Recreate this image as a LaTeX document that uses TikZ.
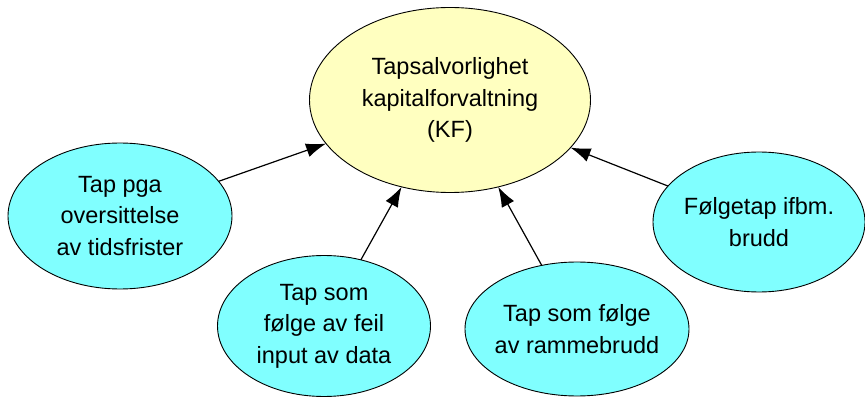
\documentclass[tikz,border=0pt]{standalone}
\usepackage{fontspec}
\setmainfont{Liberation Sans}
\usetikzlibrary{shapes.geometric,arrows.meta}
\definecolor{goalfill}{RGB}{255,255,192}
\definecolor{causefill}{RGB}{128,255,255}
\begin{document}
\begin{tikzpicture}[x=1pt,y=-1pt,
  bubble/.style={ellipse,draw=black,line width=0.9pt,inner sep=-6pt,outer sep=0pt,
    align=center,font=\fontsize{23.5pt}{31.5pt}\selectfont},
  goal/.style={bubble,fill=goalfill},
  cause/.style={bubble,fill=causefill},
  link/.style={line width=1.2pt,-{Latex[length=20pt,width=14pt]}}]
\useasboundingbox (0,0) rectangle (865,398);
\node[goal,minimum width=281pt,minimum height=185pt] (kf) at (450,100)
  {Tapsalvorlighet\\kapitalforvaltning\\(KF)};
\node[cause,minimum width=224pt,minimum height=146pt] (frist) at (120,216)
  {Tap pga\\oversittelse\\av tidsfrister};
\node[cause,minimum width=213pt,minimum height=141pt] (input) at (324,326)
  {Tap som\\følge av feil\\input av data};
\node[cause,minimum width=224pt,minimum height=134pt] (ramme) at (577,329)
  {Tap som følge\\av rammebrudd};
\node[cause,minimum width=212pt,minimum height=140pt] (folge) at (759,222)
  {Følgetap ifbm.\\brudd};
\draw[link] (frist) -- (kf);
\draw[link] (input) -- (kf);
\draw[link] (ramme) -- (kf);
\draw[link] (folge) -- (kf);
\end{tikzpicture}
\end{document}
